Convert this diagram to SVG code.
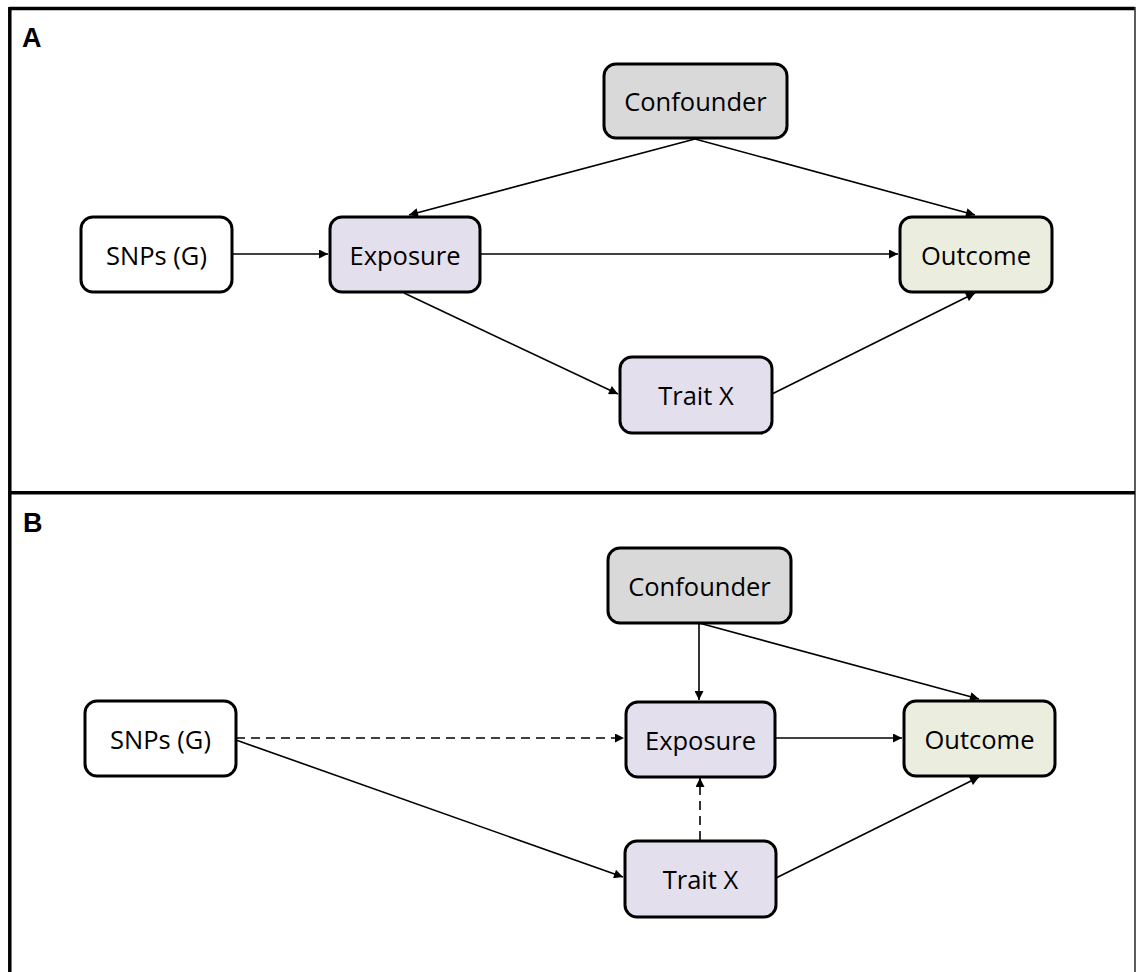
<svg xmlns="http://www.w3.org/2000/svg" width="1136" height="972" viewBox="0 0 1136 972">
<style>
.node rect{stroke:#000;stroke-width:3;}
.node text{font-family:"Open Sans","Noto Sans",sans-serif;font-size:25.5px;fill:#000;text-anchor:middle;dominant-baseline:central;}
.white{fill:#fff}.conf{fill:#d9d9d9}.purp{fill:#e4dfec}.green{fill:#ebeedf}
.edge{stroke:#000;stroke-width:1.6;fill:none;marker-end:url(#arr)}
.dash{stroke-dasharray:9 6}
.lbl{font-family:"Liberation Sans",Arial,sans-serif;font-weight:bold;font-size:27px;fill:#000}
</style>
<defs>
<marker id="arr" viewBox="0 0 10 10" refX="10" refY="5" markerWidth="10" markerHeight="9" markerUnits="userSpaceOnUse" orient="auto">
<path d="M0,0 L10,5 L0,10 z" fill="#000"/>
</marker>
</defs>
<rect width="1136" height="972" fill="#fff"/>
<g id="frame">
<line x1="9.5" y1="8.5" x2="1135" y2="8.5" stroke="#000" stroke-width="3.5"/>
<line x1="9.8" y1="7" x2="9.8" y2="972" stroke="#000" stroke-width="3.5"/>
<line x1="1135" y1="7" x2="1135" y2="972" stroke="#333" stroke-width="1.6"/>
<line x1="8" y1="492.8" x2="1135" y2="492.8" stroke="#000" stroke-width="3.5"/>
<text class="lbl" x="22" y="47">A</text>
<text class="lbl" x="23" y="532">B</text>
</g>
<g id="connectors">
<line class="edge" x1="232" y1="254" x2="328" y2="254"/>
<line class="edge" x1="695" y1="139" x2="409" y2="215"/>
<line class="edge" x1="695" y1="139" x2="975" y2="215"/>
<line class="edge" x1="480" y1="254" x2="898" y2="254"/>
<line class="edge" x1="404" y1="293" x2="618" y2="394"/>
<line class="edge" x1="772" y1="394" x2="975" y2="293"/>
<line class="edge dash" x1="236" y1="738" x2="624" y2="738"/>
<line class="edge" x1="236" y1="740" x2="623" y2="877"/>
<line class="edge" x1="699" y1="623" x2="699" y2="700"/>
<line class="edge" x1="699" y1="623" x2="979" y2="699"/>
<line class="edge" x1="775" y1="738" x2="902" y2="738"/>
<line class="edge dash" x1="700" y1="840" x2="700" y2="778"/>
<line class="edge" x1="776" y1="878" x2="979" y2="777"/>
</g>
<g id="A-snps" class="node"><rect class="white" x="81" y="217" width="151" height="75" rx="12"/><text x="156.5" y="254.5">SNPs (G)</text></g>
<g id="A-exposure" class="node"><rect class="purp" x="330" y="217" width="150" height="75" rx="12"/><text x="405" y="254.5">Exposure</text></g>
<g id="A-confounder" class="node"><rect class="conf" x="604" y="64" width="183" height="74" rx="12"/><text x="695.5" y="101">Confounder</text></g>
<g id="A-outcome" class="node"><rect class="green" x="900" y="217" width="152" height="75" rx="12"/><text x="976" y="254.5">Outcome</text></g>
<g id="A-traitx" class="node"><rect class="purp" x="620" y="357" width="152" height="76" rx="12"/><text x="696" y="395">Trait X</text></g>
<g id="B-snps" class="node"><rect class="white" x="85" y="701" width="151" height="75" rx="12"/><text x="160.5" y="738.5">SNPs (G)</text></g>
<g id="B-exposure" class="node"><rect class="purp" x="626" y="702" width="149" height="75" rx="12"/><text x="700.5" y="739.5">Exposure</text></g>
<g id="B-confounder" class="node"><rect class="conf" x="608" y="548" width="183" height="75" rx="12"/><text x="699.5" y="585.5">Confounder</text></g>
<g id="B-outcome" class="node"><rect class="green" x="904" y="701" width="151" height="75" rx="12"/><text x="979.5" y="738.5">Outcome</text></g>
<g id="B-traitx" class="node"><rect class="purp" x="625" y="841" width="151" height="76" rx="12"/><text x="700.5" y="879">Trait X</text></g>
</svg>
